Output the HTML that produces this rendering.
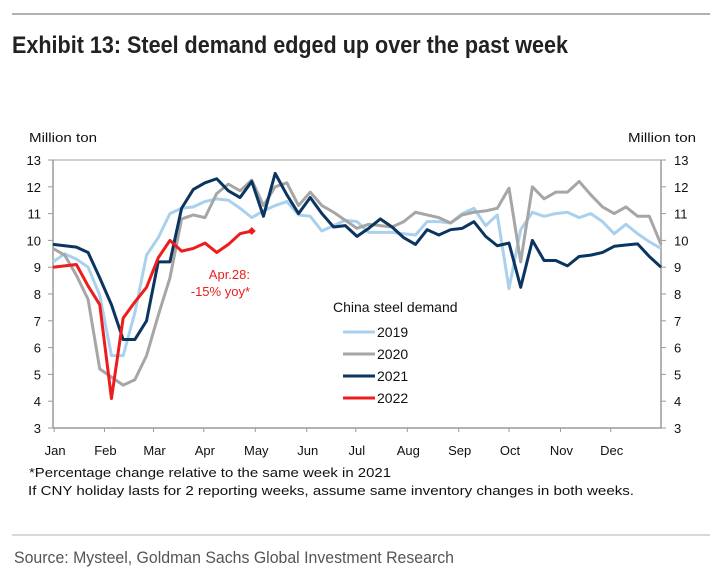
<!DOCTYPE html>
<html><head><meta charset="utf-8"><style>
body{margin:0;background:#fff}
svg{display:block;font-family:"Liberation Sans",sans-serif}
</style></head><body>
<svg id="chart" width="713" height="578" viewBox="0 0 713 578">
<line x1="12" y1="14" x2="710" y2="14" stroke="#b0b0b0" stroke-width="2"/>
<text x="12" y="53" font-family="'Liberation Sans Narrow','Liberation Sans',sans-serif" font-weight="bold" font-size="24" fill="#222" textLength="556" lengthAdjust="spacingAndGlyphs">Exhibit 13: Steel demand edged up over the past week</text>
<text x="29" y="142" font-size="13" fill="#111" textLength="68" lengthAdjust="spacingAndGlyphs">Million ton</text>
<text x="628" y="142" font-size="13" fill="#111" textLength="68" lengthAdjust="spacingAndGlyphs">Million ton</text>
<g id="axes"></g>
<g id="series"></g>
<text x="250" y="279" font-size="13" fill="#e8201f" text-anchor="end">Apr.28:</text>
<text x="250" y="296" font-size="13" fill="#e8201f" text-anchor="end">-15% yoy*</text>
<g>
<text x="333" y="312" font-size="14" fill="#111">China steel demand</text>
</g>
<g id="legend"></g>
<text x="29" y="477" font-size="13" fill="#111" textLength="362" lengthAdjust="spacingAndGlyphs">*Percentage change relative to the same week in 2021</text>
<text x="28" y="495" font-size="13" fill="#111" textLength="606" lengthAdjust="spacingAndGlyphs">If CNY holiday lasts for 2 reporting weeks, assume same inventory changes in both weeks.</text>
<line x1="12" y1="535" x2="710" y2="535" stroke="#b0b0b0" stroke-width="1"/>
<text x="14" y="563" font-family="'Liberation Sans Narrow','Liberation Sans',sans-serif" font-size="17" fill="#555" textLength="440" lengthAdjust="spacingAndGlyphs">Source: Mysteel, Goldman Sachs Global Investment Research</text>
</svg>
<script>
const yTicks=[3,4,5,6,7,8,9,10,11,12,13];
const months=["Jan","Feb","Mar","Apr","May","Jun","Jul","Aug","Sep","Oct","Nov","Dec"];
const monthTickWeeks=[0.1,4.4,8.6,12.9,17.3,21.7,25.9,30.3,34.7,39.0,43.4,47.7];
const years=["2019","2020","2021","2022"];
const colors=["#a9d1ee","#a6a6a6","#0b3561","#ee1c1c"];
const s2019=[9.2,9.5,9.3,9.0,7.95,5.7,5.7,7.3,9.45,10.1,11.0,11.2,11.25,11.45,11.55,11.5,11.2,10.85,11.1,11.3,11.45,10.95,10.9,10.35,10.55,10.75,10.7,10.3,10.3,10.3,10.25,10.2,10.7,10.7,10.65,11.0,11.2,10.55,10.95,8.2,10.4,11.05,10.9,11.0,11.05,10.85,11.0,10.7,10.25,10.6,10.25,9.95,9.7];
const s2020=[9.7,9.45,8.7,7.8,5.2,4.9,4.6,4.8,5.7,7.2,8.6,10.8,10.95,10.85,11.75,12.1,11.85,12.25,11.3,12.0,12.15,11.3,11.8,11.3,11.05,10.75,10.45,10.6,10.55,10.5,10.7,11.05,10.95,10.85,10.65,10.95,11.05,11.1,11.2,11.95,9.2,12.0,11.55,11.8,11.8,12.2,11.7,11.25,11.0,11.25,10.9,10.9,9.85];
const s2021=[9.85,9.8,9.75,9.55,8.6,7.6,6.3,6.3,7.0,9.2,9.2,11.2,11.9,12.15,12.3,11.85,11.6,12.2,10.9,12.5,11.7,11.0,11.6,11.0,10.5,10.55,10.15,10.45,10.8,10.5,10.1,9.85,10.4,10.2,10.4,10.45,10.7,10.15,9.8,9.9,8.25,10.0,9.25,9.25,9.05,9.4,9.45,9.55,9.78,9.83,9.87,9.4,9.0];
const s2022=[9.0,9.05,9.1,8.3,7.6,4.1,7.1,7.7,8.25,9.35,10.0,9.6,9.7,9.9,9.55,9.85,10.25,10.35];
const allSeries=[s2019,s2020,s2021,s2022];
const NS="http://www.w3.org/2000/svg";
const X0=53,X1=661,Y0=428,Y1=160;
const x=w=>X0+w*(X1-X0)/52;
const y=v=>Y0-(v-3)*(Y0-Y1)/10;
function mk(t,a,p){const e=document.createElementNS(NS,t);for(const k in a)e.setAttribute(k,a[k]);p.appendChild(e);return e;}
const ax=document.getElementById('axes');
let e=mk('line',{x1:X0,y1:Y1,x2:X1,y2:Y1,stroke:'#b5b5b5','stroke-width':1.2},ax);


e=mk('line',{x1:X0,y1:Y1,x2:X0,y2:Y0,stroke:'#9a9a9a','stroke-width':1.5},ax);


e=mk('line',{x1:X1,y1:Y1,x2:X1,y2:Y0,stroke:'#9a9a9a','stroke-width':1.5},ax);


e=mk('line',{x1:X0,y1:Y0,x2:X1,y2:Y0,stroke:'#9a9a9a','stroke-width':1.5},ax);


yTicks.forEach(v=>{
  mk('line',{x1:X0-5,y1:y(v),x2:X0,y2:y(v),stroke:'#9a9a9a'},ax);
  mk('line',{x1:X1,y1:y(v),x2:X1+5,y2:y(v),stroke:'#9a9a9a'},ax);
  let t=mk('text',{x:41,y:y(v)+5,'font-size':13,'text-anchor':'end',fill:'#111'},ax);t.textContent=v;
  
  
  t=mk('text',{x:674,y:y(v)+5,'font-size':13,fill:'#111'},ax);t.textContent=v;
  
  
});
monthTickWeeks.forEach(w=>mk('line',{x1:x(w),y1:Y0,x2:x(w),y2:Y0+4,stroke:'#9a9a9a'},ax));
months.forEach((m,i)=>{
  const t=mk('text',{x:x(monthTickWeeks[i])+1,y:455,'font-size':13,'text-anchor':'middle',fill:'#111'},ax);
  t.textContent=m;
  
  
});
const sg=document.getElementById('series');
allSeries.forEach((s,k)=>{
  const p=mk('polyline',{points:s.map((v,i)=>x(i)+','+y(v)).join(' '),fill:'none',stroke:colors[k],'stroke-width':3,'stroke-linejoin':'round'},sg);
  
  
});
const li=s2022.length-1,mx=x(li),my=y(s2022[li]);
const d=mk('polygon',{points:`${mx-4},${my} ${mx},${my-4} ${mx+4},${my} ${mx},${my+4}`,fill:colors[3]},sg);


const lg=document.getElementById('legend');
years.forEach((yr,k)=>{
  const cy=332+k*22;
  const l=mk('line',{x1:343,y1:cy,x2:375,y2:cy,stroke:colors[k],'stroke-width':3},lg);
  
  
  const t=mk('text',{x:377,y:cy+5,'font-size':14,fill:'#111'},lg);t.textContent=yr;
  
  
});
</script>
</body></html>
